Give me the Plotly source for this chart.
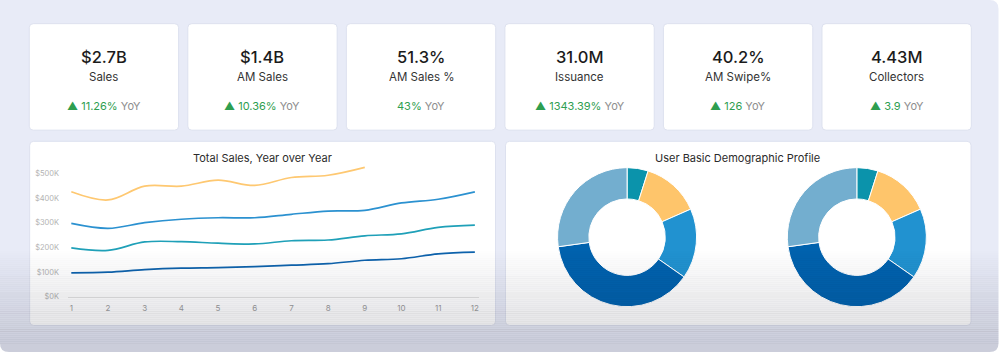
import plotly.graph_objects as go

W, H = 1000, 360

# ---------------- data ----------------
kpi_values = ["$2.7B", "$1.4B", "51.3%", "31.0M", "40.2%", "4.43M"]
kpi_labels = ["Sales", "AM Sales", "AM Sales %", "Issuance", "AM Swipe%", "Collectors"]
kpi_changes = ["11.26%", "10.36%", "43%", "1343.39%", "126", "3.9"]
kpi_arrows = [True, True, False, True, True, True]

months = [1, 2, 3, 4, 5, 6, 7, 8, 9, 10, 11, 12]
sales_y1 = [97, 100, 110, 116, 118, 122, 128, 134, 148, 154, 174, 181]
sales_y2 = [198, 188, 222, 223, 217, 214, 227, 230, 247, 255, 281, 290]
sales_y3 = [297, 277, 300, 314, 320, 320, 334, 347, 350, 380, 395, 425]
sales_y4 = [425, 392, 448, 448, 472, 451, 483, 492, 524]
y_tickvals = [0, 100, 200, 300, 400, 500]
y_ticktext = ["$0K", "$100K", "$200K", "$300K", "$400K", "$500K"]

seg_labels = ["Segment A", "Segment B", "Segment C", "Segment D", "Segment E"]
donut1_values = [4.9, 13.5, 16.3, 38.1, 27.2]
donut2_values = [4.9, 13.5, 16.3, 38.1, 27.2]
seg_colors = ["#0b93ab", "#fec56b", "#2192d0", "#0062ae", "#73aecf"]

line_colors = ["#0e63ad", "#1fa0b8", "#2b91d0", "#fec871"]

FONT = "Inter, Roboto, sans-serif"


def px(x):
    return x / W


def py(y):
    return 1 - y / H


def rrect(x0, y0, x1, y1, r, round_top=True, round_tl=True):
    rx, ry = r / W, r / H
    X0, X1 = px(x0), px(x1)
    Y0, Y1 = py(y0), py(y1)
    tl = round_top and round_tl
    if tl:
        p = f"M{X0 + rx},{Y0} "
    else:
        p = f"M{X0},{Y0} "
    if round_top:
        p += f"L{X1 - rx},{Y0} Q{X1},{Y0} {X1},{Y0 - ry} "
    else:
        p += f"L{X1},{Y0} "
    p += f"L{X1},{Y1 + ry} Q{X1},{Y1} {X1 - rx},{Y1} L{X0 + rx},{Y1} "
    p += f"Q{X0},{Y1} {X0},{Y1 + ry} "
    if tl:
        p += f"L{X0},{Y0 - ry} Q{X0},{Y0} {X0 + rx},{Y0} Z"
    else:
        p += f"L{X0},{Y0} Z"
    return p


shapes = []
annotations = []

# outer background panel
OUTER_RIGHT, OUTER_BOTTOM = 999.5, 357
shapes.append(dict(type="path", xref="paper", yref="paper",
                   path=rrect(0, 0, OUTER_RIGHT, OUTER_BOTTOM, 9, round_tl=False),
                   fillcolor="#e8ebf7", line=dict(width=0), layer="below"))

# KPI cards
card_w, pitch, cx0 = 149.5, 158.7, 29.3
for i in range(6):
    x0 = cx0 + i * pitch
    x1 = x0 + card_w
    shapes.append(dict(type="path", xref="paper", yref="paper",
                       path=rrect(x0, 24, x1, 132, 4),
                       fillcolor="#ffffff", line=dict(color="#dde1ef", width=1),
                       layer="below"))
    cx = (x0 + x1) / 2
    annotations.append(dict(x=px(cx), y=py(57.5), xref="paper", yref="paper",
                            text=kpi_values[i], showarrow=False,
                            font=dict(family=FONT, size=16.5, color="#1b1b1b", weight=500),
                            xanchor="center", yanchor="middle"))
    annotations.append(dict(x=px(cx), y=py(78), xref="paper", yref="paper",
                            text=kpi_labels[i], showarrow=False,
                            font=dict(family=FONT, size=11.5, color="#333333"),
                            xanchor="center", yanchor="middle"))
    arrow = "▲ " if kpi_arrows[i] else ""
    txt = (f"<span style='color:#2e9e50'>{arrow}{kpi_changes[i]}</span>"
           f" <span style='color:#8e8e8e'>YoY</span>")
    annotations.append(dict(x=px(cx), y=py(107), xref="paper", yref="paper",
                            text=txt, showarrow=False,
                            font=dict(family=FONT, size=11, color="#2e9e50"),
                            xanchor="center", yanchor="middle"))

# lower panels
for (x0, x1) in [(29.7, 496), (506, 972)]:
    shapes.append(dict(type="path", xref="paper", yref="paper",
                       path=rrect(x0, 143.3, x1, 330, 4),
                       fillcolor="#ffffff", line=dict(color="#dde1ef", width=1),
                       layer="below"))

annotations.append(dict(x=px(263), y=py(160), xref="paper", yref="paper",
                        text="Total Sales, Year over Year", showarrow=False,
                        font=dict(family=FONT, size=11, color="#2b2b2b"),
                        xanchor="center", yanchor="middle"))
annotations.append(dict(x=px(738), y=py(160), xref="paper", yref="paper",
                        text="User Basic Demographic Profile", showarrow=False,
                        font=dict(family=FONT, size=11, color="#2b2b2b"),
                        xanchor="center", yanchor="middle"))

fig = go.Figure()

series = [sales_y1, sales_y2, sales_y3, sales_y4]
names = ["Year 1", "Year 2", "Year 3", "Year 4"]
for s, n, c in zip(series, names, line_colors):
    fig.add_trace(go.Scatter(x=months[:len(s)], y=s, mode="lines", name=n,
                             line=dict(color=c, width=1.7, shape="spline", smoothing=1),
                             showlegend=False))

# donuts
R = 70.5
for cxp, vals in [(627.7, donut1_values), (857.7, donut2_values)]:
    cy = 240.5
    fig.add_trace(go.Pie(values=vals, labels=seg_labels, hole=0.55, sort=False,
                         direction="clockwise", rotation=0, textinfo="none",
                         marker=dict(colors=seg_colors, line=dict(color="#ffffff", width=1)),
                         domain=dict(x=[px(cxp - R), px(cxp + R)], y=[py(cy + R), py(cy - R)]),
                         showlegend=False))

# bottom fade overlay (only over the dashboard panel)
g0, g1, amax = 252, OUTER_BOTTOM - 9, 0.14
n = 48
step = (g1 - g0) / n
for k in range(n):
    ya = g0 + k * step
    yb = ya + step + 0.3
    a = amax * (k + 0.5) / n
    shapes.append(dict(type="rect", xref="paper", yref="paper",
                       x0=0, x1=px(OUTER_RIGHT), y0=py(yb), y1=py(ya),
                       fillcolor=f"rgba(25,25,45,{a:.4f})", line=dict(width=0),
                       layer="above"))
shapes.append(dict(type="path", xref="paper", yref="paper",
                   path=rrect(0, g1, OUTER_RIGHT, OUTER_BOTTOM, 9, round_top=False),
                   fillcolor=f"rgba(25,25,45,{amax:.4f})", line=dict(width=0),
                   layer="above"))

fig.update_layout(
    width=W, height=H, margin=dict(l=0, r=0, t=0, b=0),
    paper_bgcolor="#ffffff", plot_bgcolor="rgba(0,0,0,0)",
    shapes=shapes, annotations=annotations,
    xaxis=dict(domain=[px(67.7), px(479)], range=[0.9, 12.1],
               tickvals=months, showgrid=False, zeroline=False,
               showline=True, linecolor="#e3e3e3", linewidth=1,
               tickfont=dict(family=FONT, size=8, color="#9c9c9c"),
               ticks="outside", ticklen=4, tickcolor="rgba(0,0,0,0)"),
    yaxis=dict(domain=[py(301), py(165.7)], range=[0, 540],
               tickvals=y_tickvals, ticktext=y_ticktext, showgrid=False,
               zeroline=False, showline=False,
               tickfont=dict(family=FONT, size=7.5, color="#b3b3b3"),
               ticks="outside", ticklen=6, tickcolor="rgba(0,0,0,0)"),
    hovermode="closest",
)

fig.write_html("out.html", config={"displayModeBar": False},
               post_script="document.body.style.margin='0';document.body.style.overflow='hidden';")
